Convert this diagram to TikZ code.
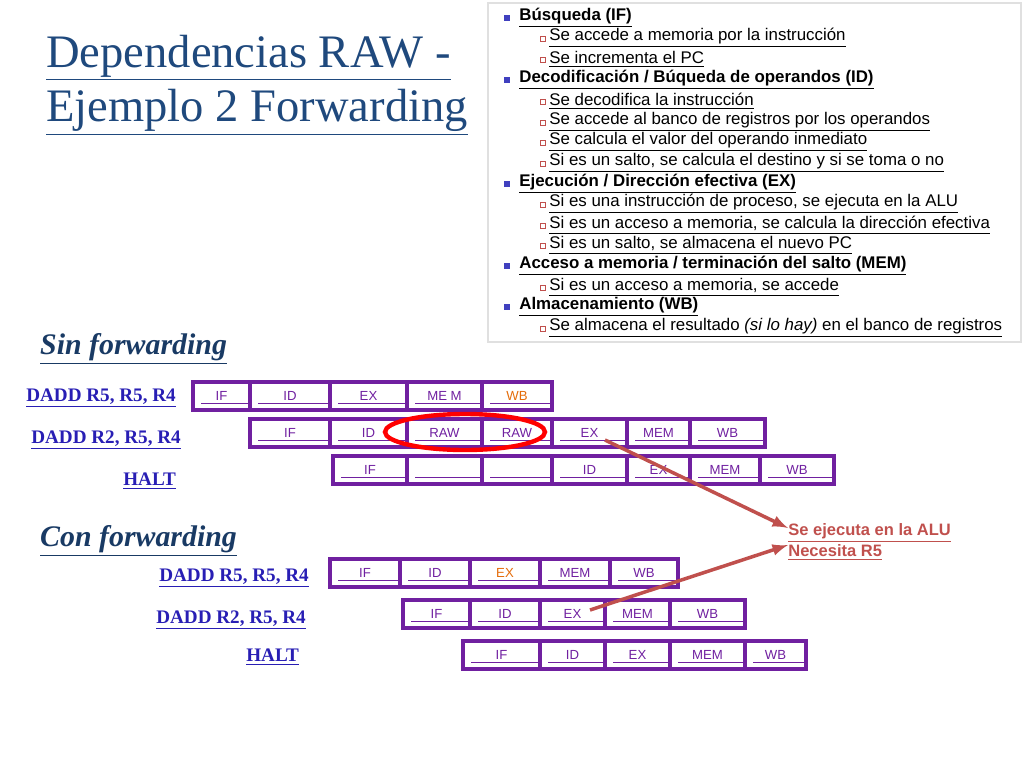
\documentclass[tikz,border=0pt]{standalone}
\usepackage{fontspec}
\setmainfont{Liberation Serif}
\setsansfont{Liberation Sans}
\usetikzlibrary{positioning}
\definecolor{pipe}{RGB}{112,32,160}
\definecolor{instr}{RGB}{40,30,180}
\definecolor{titleblue}{RGB}{31,73,125}
\definecolor{note}{RGB}{192,80,77}
\definecolor{wbor}{RGB}{228,108,10}
\newcommand{\ul}[1]{\underline{#1}}
\tikzset{
  instr/.style={anchor=east, font=\fontsize{10.9}{12}\selectfont\bfseries, text=instr},
  cell/.style={font=\sffamily\fontsize{7.5}{8}\selectfont, text=pipe},
  item/.style={anchor=west, font=\sffamily\fontsize{9.6}{10}\selectfont\bfseries, inner sep=0pt},
  subitem/.style={anchor=west, font=\sffamily\fontsize{9.6}{10}\selectfont, inner sep=0pt},
  head/.style={anchor=west, font=\fontsize{17}{19}\selectfont\bfseries\itshape, text=titleblue!80!black}
}
% draws one pipeline row: y top, list of x borders and labels
\newcommand{\piperow}[2]{%
  \foreach \a/\b/\t in {#2} {
    \draw[pipe, line width=1.8pt] (\a,#1) rectangle (\b,#1+28);
    \draw[pipe, line width=0.5pt] (\a+8,#1+21) -- (\b-2,#1+21);
    \node[cell] at ({(\a+\b)/2},#1+14) {\t};
  }}
\begin{document}
\begin{tikzpicture}[x=0.02cm, y=-0.02cm]
\useasboundingbox (0,0) rectangle (1024,768);

% title
\node[anchor=west, font=\fontsize{26.5}{30}\selectfont, text=titleblue] (title1) at (40,58) {\ul{Dependencias RAW -}};
\node[anchor=west, font=\fontsize{26.5}{30}\selectfont, text=titleblue] (title2) at (40,112) {\ul{Ejemplo 2 Forwarding}};

% stage list
\draw[black!12, line width=1.5pt] (488,3) rectangle (1021,342);
\foreach \y/\t in {18/{B\'usqueda (IF)}, 80/{Decodificaci\'on / B\'uqueda de operandos (ID)}, 184/{Ejecuci\'on / Direcci\'on efectiva (EX)}, 266/{Acceso a memoria / terminaci\'on del salto (MEM)}, 307/{Almacenamiento (WB)}} {
  \fill[blue!50!gray] (504,\y-3) rectangle (510,\y+3);
  \node[item] at (519,\y) {\ul{\t}};
}
\foreach \y/\t in {38/{Se accede a memoria por la instrucci\'on}, 59/{Se incrementa el PC}, 101/{Se decodifica la instrucci\'on}, 122/{Se accede al banco de registros por los operandos}, 142/{Se calcula el valor del operando inmediato}, 163/{Si es un salto, se calcula el destino y si se toma o no}, 204/{Si es una instrucci\'on de proceso, se ejecuta en la ALU}, 225/{Si es un acceso a memoria, se calcula la direcci\'on efectiva}, 245/{Si es un salto, se almacena el nuevo PC}, 287/{Si es un acceso a memoria, se accede}} {
  \draw[note, line width=0.4pt] (540,\y-1.5) rectangle (545,\y+3.5);
  \node[subitem] at (549,\y) {\ul{\t}};
}
\draw[note, line width=0.4pt] (540,326.5) rectangle (545,331.5);
\node[subitem] (wbtext) at (549,328) {\ul{Se almacena el resultado \textit{(si lo hay)} en el banco de registros}};

% sin forwarding
\node[head] (sinfw) at (34,349) {\ul{Sin forwarding}};
\node[instr] (s1) at (182,398) {\ul{DADD R5, R5, R4}};
\node[instr] (s2) at (187,440) {\ul{DADD R2, R5, R4}};
\node[instr] (s3) at (182,481) {\ul{HALT}};
\piperow{382}{193/250/IF, 250/330/ID, 330/407/EX, 407/482/ME M, 482/552/\textcolor{wbor}{WB}}
\piperow{419}{250/330/IF, 330/407/ID, 407/482/RAW, 482/552/RAW, 552/627/EX, 627/690/MEM, 690/765/WB}
\piperow{456}{333/407/IF, 407/482/, 482/552/, 552/627/ID, 627/690/EX, 690/760/MEM, 760/834/WB}
\draw[red, line width=2.5pt] (465,432) ellipse [x radius=80, y radius=18];
\coordinate (stall) at (605,440);

% con forwarding
\node[head] (confw) at (34,541) {\ul{Con forwarding}};
\node[instr] (c1) at (315,578) {\ul{DADD R5, R5, R4}};
\node[instr] (c2) at (312,620) {\ul{DADD R2, R5, R4}};
\node[instr] (c3) at (305,657) {\ul{HALT}};
\piperow{559}{330/400/IF, 400/470/ID, 470/540/\textcolor{wbor}{EX}, 540/610/MEM, 610/678/WB}
\piperow{600}{403/470/IF, 470/540/ID, 540/605/EX, 605/670/MEM, 670/745/WB}
\piperow{641}{463/540/IF, 540/605/ID, 605/670/EX, 670/745/MEM, 745/806/WB}
\coordinate (fwd) at (590,610);

% note
\node[anchor=west, align=left, inner sep=0pt, text=note, font=\sffamily\fontsize{9.4}{12}\selectfont\bfseries] (alu) at (788,542) {\ul{Se ejecuta en la ALU}\\\ul{Necesita R5}};
\draw[note, line width=2pt, -latex] (stall) -- (alu.west |- 0,528);
\draw[note, line width=2pt, -latex] (fwd) -- (alu.west |- 0,545);
\end{tikzpicture}
\end{document}
